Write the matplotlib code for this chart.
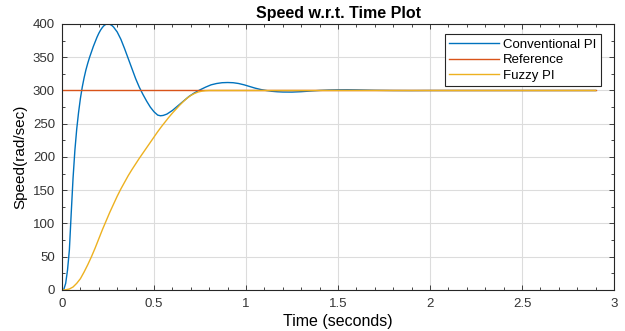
import matplotlib
matplotlib.use("Agg")
import matplotlib.pyplot as plt
from matplotlib.ticker import MultipleLocator

plt.rcParams['font.family'] = ['Liberation Sans', 'DejaVu Sans']

# Conventional PI response (time s, speed rad/s)
t_conv = [0.0, 0.01, 0.02, 0.03, 0.04, 0.05, 0.06, 0.07, 0.08, 0.09,
          0.10, 0.11, 0.12, 0.13, 0.14, 0.15, 0.16, 0.17, 0.18, 0.19,
          0.20, 0.21, 0.22, 0.23, 0.24, 0.25, 0.26, 0.27, 0.28, 0.30,
          0.32, 0.34, 0.36, 0.38, 0.40, 0.42, 0.44, 0.46, 0.48, 0.50,
          0.52, 0.535, 0.55, 0.57, 0.60, 0.63, 0.66, 0.69, 0.72, 0.75,
          0.78, 0.81, 0.84, 0.87, 0.90, 0.93, 0.96, 0.99, 1.02, 1.05,
          1.08, 1.11, 1.14, 1.17, 1.20, 1.25, 1.30, 1.35, 1.40, 1.45,
          1.50, 1.55, 1.60, 1.65, 1.70, 1.80, 1.90, 2.0, 2.5, 2.9]
v_conv = [0.0, 1, 10, 30, 60, 115, 168, 210, 242, 267,
          288, 305, 319, 331, 341, 350, 358, 366, 373, 380,
          386, 391, 395, 398, 399.7, 400, 399.5, 398, 395.5, 388,
          377, 363, 348, 333, 318, 305, 294, 284, 275, 268,
          263, 262, 262.5, 264.5, 270, 277, 284, 291, 296.5, 301,
          305, 308.5, 310.5, 311.7, 312, 311.7, 310.5, 308.5, 306, 303.5,
          301.5, 300, 298.8, 298.1, 297.7, 297.6, 298.2, 299.2, 300.1, 300.7,
          301.0, 301.1, 300.9, 300.6, 300.3, 300, 299.9, 300, 300, 300]

# Fuzzy PI response
t_fuzzy = [0.0, 0.02, 0.04, 0.06, 0.08, 0.10, 0.12, 0.14, 0.16, 0.18,
           0.20, 0.22, 0.24, 0.26, 0.28, 0.30, 0.32, 0.34, 0.36, 0.38,
           0.40, 0.42, 0.44, 0.46, 0.48, 0.50, 0.52, 0.54, 0.56, 0.58,
           0.60, 0.62, 0.64, 0.66, 0.68, 0.70, 0.72, 0.74, 0.76, 0.78,
           0.80, 1.0, 1.5, 2.0, 2.5, 2.9]
v_fuzzy = [0.0, 0.3, 1.5, 4.5, 10, 17, 27, 38, 50, 63,
           77, 91, 104, 117, 129, 141, 152, 162, 172, 181,
           189.5, 198, 206, 214, 222, 230, 238, 245.5, 252.5, 259.5,
           266, 272, 278, 283.5, 288.5, 292.5, 295.5, 297.7, 299, 299.7,
           300, 300, 300, 300, 300, 300]

# Reference speed
t_ref = [0.0, 2.9]
v_ref = [300, 300]

title = "Speed w.r.t. Time Plot"
xlabel = "Time (seconds)"
ylabel = "Speed(rad/sec)"
legend_labels = ["Conventional PI", "Reference", "Fuzzy PI"]

fig = plt.figure(figsize=(6.25, 3.31), dpi=100)
ax = fig.add_axes([0.0992, 0.1239, 0.8832, 0.8036])

ax.plot(t_conv, v_conv, color='#0072BD', lw=1.0, label=legend_labels[0])
ax.plot(t_ref, v_ref, color='#D95319', lw=1.0, label=legend_labels[1])
ax.plot(t_fuzzy, v_fuzzy, color='#EDB120', lw=1.0, label=legend_labels[2])

ax.set_xlim(0, 3)
ax.set_ylim(0, 400)
ax.xaxis.set_major_locator(MultipleLocator(0.5))
ax.xaxis.set_minor_locator(MultipleLocator(0.1))
ax.yaxis.set_major_locator(MultipleLocator(50))
ax.yaxis.set_minor_locator(MultipleLocator(25))
ax.xaxis.set_major_formatter(plt.FuncFormatter(lambda v, p: ('%g' % v)))

ax.grid(True, which='major', color='#dcdcdc', lw=0.8)
ax.set_axisbelow(True)

axis_col = '#262626'
for s in ax.spines.values():
    s.set_color(axis_col)
    s.set_linewidth(0.8)
ax.tick_params(which='both', direction='in', top=True, right=True,
               colors=axis_col, labelcolor='#333333', labelsize=9.5, width=0.6)
ax.tick_params(which='major', length=3.5)
ax.tick_params(axis='x', which='major', pad=6)
ax.tick_params(axis='y', which='major', pad=5)
ax.tick_params(which='minor', length=2)

ax.set_title(title, fontsize=11.5, fontweight='bold', pad=4)
ax.set_xlabel(xlabel, fontsize=11.5, labelpad=3)
ax.set_ylabel(ylabel, fontsize=11, labelpad=4)

leg = ax.legend(loc='upper right', bbox_to_anchor=(0.977, 0.963), fontsize=9.5,
                frameon=True, fancybox=False, edgecolor='#262626', framealpha=1,
                handlelength=3.8, handletextpad=0.3, borderpad=0.35,
                labelspacing=0.25, borderaxespad=0)
leg.get_frame().set_linewidth(0.8)

fig.savefig('out.png', dpi=100, facecolor='white')
